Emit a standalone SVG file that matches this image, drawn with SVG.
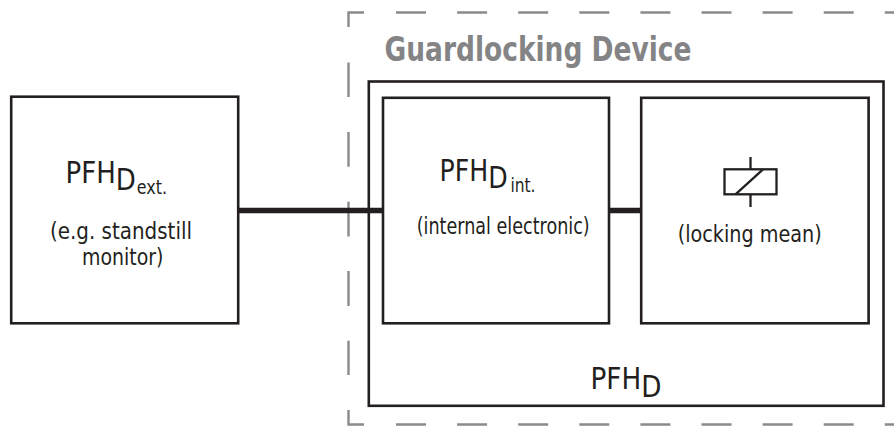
<svg xmlns="http://www.w3.org/2000/svg" width="894" height="426" viewBox="0 0 894 426">
<style>
  .box { fill: #ffffff; stroke: #231f20; stroke-width: 2.6; }
  .conn { stroke: #231f20; stroke-width: 5.5; fill: none; }
  .dash { stroke: #8a8a8a; stroke-width: 2.4; fill: none; stroke-linecap: butt; }
  .sym { stroke: #231f20; stroke-width: 2.3; fill: none; }
  .t { font-family: "DejaVu Sans Condensed", "Liberation Sans Narrow", "Liberation Sans", sans-serif; fill: #231f20; }
  .big { font-size: 31px; }
  .sub { font-size: 19px; }
  .txt { font-size: 23.5px; }
  .title { font-family: "DejaVu Sans Condensed", "Liberation Sans Narrow", "Liberation Sans", sans-serif; font-weight: bold; font-size: 33px; fill: #848486; }
</style>
<rect width="894" height="426" fill="#ffffff"/>
<g id="guardlocking-boundary">
  <path class="dash" d="M348.5,27 V12.5 H364 M396,12.5 H426 M457.1,12.5 H487.1 M518.2,12.5 H548.2 M579.3,12.5 H609.3 M640.4,12.5 H670.4 M701.5,12.5 H731.5 M762.6,12.5 H792.6 M823.7,12.5 H853.7 M884.8,12.5 H894 M348.5,62.5 V97 M348.5,132 V166.7 M348.5,201.7 V236.5 M348.5,271 V306 M348.5,340.7 V375 M348.5,410 V424.5 H364 M396,424.5 H426 M457.1,424.5 H487.1 M518.2,424.5 H548.2 M579.3,424.5 H609.3 M640.4,424.5 H670.4 M701.5,424.5 H731.5 M762.6,424.5 H792.6 M823.7,424.5 H853.7 M884.8,424.5 H894"/>
  <text class="title" x="384.5" y="61" textLength="307" lengthAdjust="spacingAndGlyphs">Guardlocking Device</text>
</g>
<g id="device">
  <rect class="box" x="368.8" y="81.5" width="514.7" height="324.3"/>
  <text class="t big" x="590.5" y="389" textLength="71" lengthAdjust="spacingAndGlyphs">PFH<tspan dy="7.5">D</tspan></text>
</g>
<g id="connectors">
  <line class="conn" x1="238" y1="210.5" x2="383" y2="210.5"/>
  <line class="conn" x1="609" y1="210.5" x2="641" y2="210.5"/>
</g>
<g id="external">
  <rect class="box" x="11.2" y="96.7" width="227" height="226.6"/>
  <text class="t big" x="65.5" y="183.3" textLength="101.5" lengthAdjust="spacingAndGlyphs">PFH<tspan dy="6.7">D</tspan><tspan class="sub" dx="1" dy="3.5">ext.</tspan></text>
  <text class="t txt" x="50" y="238.5" textLength="142" lengthAdjust="spacingAndGlyphs">(e.g. standstill</text>
  <text class="t txt" x="82" y="265" textLength="81.5" lengthAdjust="spacingAndGlyphs">monitor)</text>
</g>
<g id="internal">
  <rect class="box" x="383" y="97.8" width="226" height="225.5"/>
  <text class="t big" x="439.5" y="180.7" textLength="96" lengthAdjust="spacingAndGlyphs">PFH<tspan dy="7.3">D</tspan><tspan class="sub" dx="3" dy="3.5">int.</tspan></text>
  <text class="t txt" x="416.7" y="233.5" textLength="173" lengthAdjust="spacingAndGlyphs">(internal electronic)</text>
</g>
<g id="locking">
  <rect class="box" x="641.2" y="97.8" width="227.4" height="225.5"/>
  <rect class="sym" x="724.5" y="169.3" width="52" height="25"/>
  <line class="sym" x1="750.5" y1="157" x2="750.5" y2="169.3"/>
  <line class="sym" x1="750.5" y1="194.3" x2="750.5" y2="207"/>
  <line class="sym" x1="735.5" y1="194.3" x2="763" y2="169.3"/>
  <text class="t txt" x="677.7" y="242" textLength="144" lengthAdjust="spacingAndGlyphs">(locking mean)</text>
</g>
</svg>
